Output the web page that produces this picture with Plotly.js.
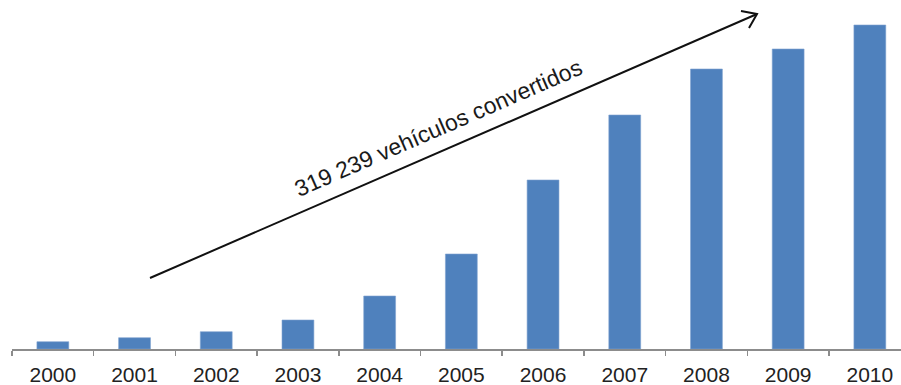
<!DOCTYPE html>
<html>
<head>
<meta charset="utf-8">
<script src="https://cdn.plot.ly/plotly-3.0.1.min.js"></script>
<style>html,body{margin:0;padding:0;background:#fff;}#chart{width:901px;height:385px;}</style>
</head>
<body>
<div id="chart"></div>
<script>
const years = ['2000','2001','2002','2003','2004','2005','2006','2007','2008','2009','2010'];
const vehicles = [7300, 11300, 17300, 29000, 53000, 95000, 169000, 234000, 280000, 300000, 324000];
const arrowLabel = '319 239 vehículos convertidos';

const W = 901, H = 385;
const M = {l: 12, r: 0, t: 0, b: 36};
const pw = W - M.l - M.r, ph = H - M.t - M.b;
const px = x => (x - M.l) / pw;
const py = y => (H - M.b - y) / ph;

const start = [150, 278], tip = [757, 14], arm1 = [741, 11], arm2 = [749, 28];

const trace = {
  type: 'bar',
  x: years,
  y: vehicles,
  marker: {color: '#4F81BD', line: {color: '#7FA3D0', width: 0.6}},
  hoverinfo: 'x+y'
};

const layout = {
  width: W, height: H,
  margin: M,
  paper_bgcolor: '#fff', plot_bgcolor: '#fff',
  showlegend: false,
  bargap: 0.61,
  font: {family: 'Liberation Sans, Arial, sans-serif', color: '#222'},
  xaxis: {
    type: 'category',
    range: [-0.5, -0.5 + pw / 81.7],
    showline: true, linecolor: '#8c8c8c', linewidth: 1.5,
    ticks: 'outside', tickson: 'boundaries', ticklen: 5, tickcolor: '#8c8c8c', tickwidth: 1.5,
    ticklabelstandoff: 6,
    showgrid: false, zeroline: false,
    tickfont: {size: 21, color: '#222'},
    fixedrange: true
  },
  yaxis: {
    range: [0, 349000],
    visible: false, showgrid: false, zeroline: false, fixedrange: true
  },
  shapes: [
    {type: 'line', xref: 'paper', yref: 'paper', x0: px(start[0]), y0: py(start[1]), x1: px(tip[0]), y1: py(tip[1]), line: {color: '#111', width: 2}},
    {type: 'path', xref: 'paper', yref: 'paper',
     path: 'M' + px(arm1[0]) + ',' + py(arm1[1]) + ' L' + px(tip[0]) + ',' + py(tip[1]) + ' L' + px(arm2[0]) + ',' + py(arm2[1]),
     line: {color: '#111', width: 2}}
  ],
  annotations: [
    {xref: 'paper', yref: 'paper', x: px(438), y: py(128), xanchor: 'center', yanchor: 'middle',
     text: arrowLabel, showarrow: false, textangle: -23.5,
     font: {size: 23, color: '#1a1a1a', family: 'Liberation Sans, Arial, sans-serif'}}
  ]
};

Plotly.newPlot('chart', [trace], layout, {displayModeBar: false, staticPlot: true});
</script>
</body>
</html>
